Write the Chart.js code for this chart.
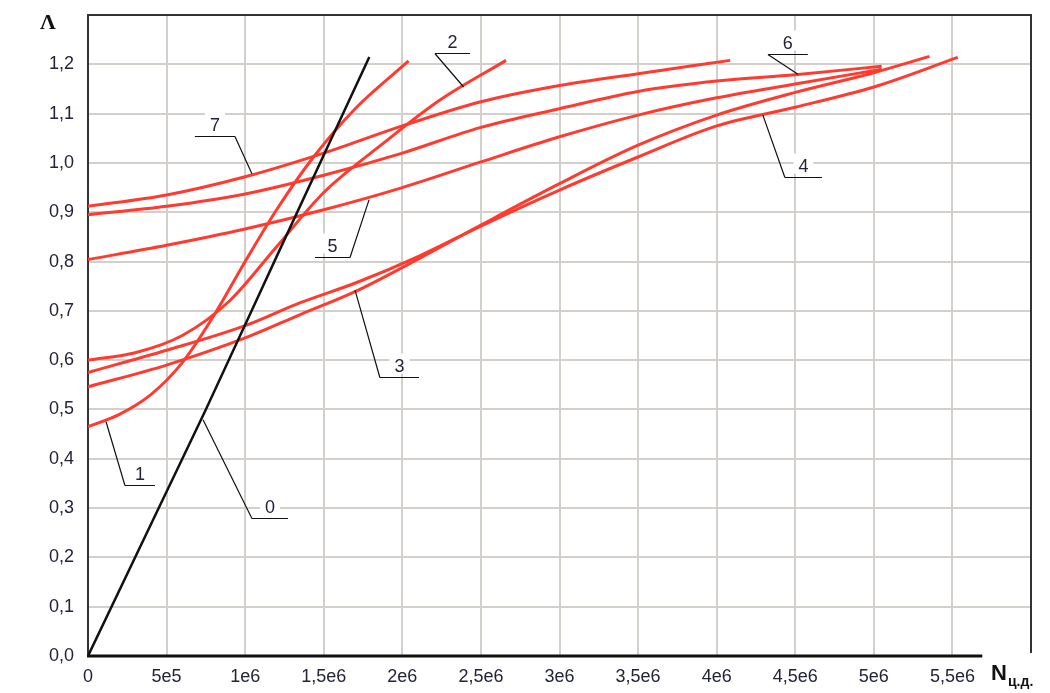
<!DOCTYPE html>
<html>
<head>
<meta charset="utf-8">
<script src="https://cdn.jsdelivr.net/npm/chart.js@4/dist/chart.umd.min.js"></script>
<style>
  html, body { margin: 0; padding: 0; background: #fff; }
</style>
</head>
<body>
<canvas id="chart" width="1050" height="693"></canvas>
<script>
// curve 0 (black) and curves 1..7 (red): N on x, Lambda on y
const x0 = [0, 0.45e6, 0.75e6, 1.2e6, 1.79e6];
const y0 = [0, 0.30, 0.50, 0.81, 1.215];

const x1 = [0, 0.2e6, 0.4e6, 0.6e6, 0.8e6, 1.0e6, 1.2e6, 1.43e6, 1.7e6, 2.04e6];
const y1 = [0.465, 0.49, 0.53, 0.595, 0.69, 0.80, 0.905, 1.01, 1.11, 1.207];

const x2 = [0, 0.3e6, 0.6e6, 0.9e6, 1.2e6, 1.5e6, 1.88e6, 2.237e6, 2.66e6];
const y2 = [0.60, 0.615, 0.65, 0.72, 0.83, 0.94, 1.04, 1.127, 1.208];

const x3 = [0, 0.5e6, 1.0e6, 1.355e6, 1.706e6, 2.1e6, 2.5e6, 3.0e6, 3.5e6, 4.0e6, 4.5e6, 5.0e6, 5.354e6];
const y3 = [0.546, 0.59, 0.645, 0.693, 0.74, 0.805, 0.874, 0.958, 1.036, 1.097, 1.143, 1.183, 1.216];

const x4 = [0, 0.5e6, 1.0e6, 1.355e6, 1.706e6, 2.1e6, 2.5e6, 3.0e6, 3.5e6, 4.0e6, 4.5e6, 5.0e6, 5.534e6];
const y4 = [0.575, 0.62, 0.67, 0.717, 0.757, 0.81, 0.872, 0.945, 1.012, 1.075, 1.113, 1.154, 1.214];

const x5 = [0, 0.5e6, 1.0e6, 1.5e6, 2.0e6, 2.5e6, 3.0e6, 3.5e6, 4.0e6, 4.5e6, 5.05e6];
const y5 = [0.804, 0.833, 0.866, 0.905, 0.95, 1.002, 1.053, 1.097, 1.132, 1.16, 1.19];

const x6 = [0, 0.5e6, 1.0e6, 1.5e6, 2.0e6, 2.5e6, 3.0e6, 3.5e6, 4.0e6, 4.5e6, 5.05e6];
const y6 = [0.895, 0.912, 0.937, 0.975, 1.02, 1.072, 1.110, 1.145, 1.166, 1.179, 1.196];

const x7 = [0, 0.5e6, 1.0e6, 1.5e6, 2.0e6, 2.5e6, 3.0e6, 3.5e6, 4.086e6];
const y7 = [0.912, 0.935, 0.972, 1.02, 1.075, 1.124, 1.157, 1.181, 1.208];

// curve number labels with leader lines (data units)
const tagText  = ['0', '1', '2', '3', '4', '5', '6', '7'];
const tagLineY = [0.28, 0.347, 1.223, 0.566, 0.972, 0.809, 1.221, 1.055];
const tagLineA = [1.043e6, 0.235e6, 2.207e6, 1.857e6, 4.434e6, 1.444e6, 4.326e6, 0.68e6];
const tagLineB = [1.272e6, 0.426e6, 2.43e6, 2.106e6, 4.67e6, 1.667e6, 4.58e6, 0.935e6];
const tagCorner = [1.043e6, 0.235e6, 2.207e6, 1.857e6, 4.434e6, 1.667e6, 4.326e6, 0.935e6];
const tagTipX  = [0.732e6, 0.115e6, 2.39e6, 1.699e6, 4.294e6, 1.788e6, 4.517e6, 1.043e6];
const tagTipY  = [0.479, 0.475, 1.154, 0.742, 1.097, 0.925, 1.18, 0.978];

const xs = [x0, x1, x2, x3, x4, x5, x6, x7];
const ys = [y0, y1, y2, y3, y4, y5, y6, y7];

const RED = '#ff3b2f';
const FONT = "'Liberation Sans', Arial, sans-serif";
const TXT = '#23233a';

const datasets = xs.map((xx, i) => ({
  label: String(i),
  data: xx.map((v, k) => ({ x: v, y: ys[i][k] })),
  borderColor: i === 0 ? '#111' : RED,
  borderWidth: i === 0 ? 2.5 : 3,
  pointRadius: 0,
  fill: false,
  cubicInterpolationMode: 'monotone'
}));

function fmtX(v) {
  if (v === 0) return '0';
  if (v > 5.9e6) return '';
  if (v < 1e6) return '5e5';
  return String(v / 1e6).replace('.', ',') + 'e6';
}

const decor = {
  id: 'decor',
  beforeDatasetsDraw(chart) {
    const { ctx, chartArea: a, scales } = chart;
    const xr = scales.x.getPixelForValue(5.69e6);
    ctx.save();
    ctx.strokeStyle = '#333';
    ctx.lineWidth = 2;
    ctx.beginPath();
    ctx.moveTo(a.left, a.bottom);
    ctx.lineTo(a.left, a.top);
    ctx.lineTo(a.right, a.top);
    ctx.lineTo(a.right, a.bottom - 3);
    ctx.stroke();
    ctx.strokeStyle = '#111';
    ctx.lineWidth = 3;
    ctx.beginPath();
    ctx.moveTo(a.left - 1, a.bottom);
    ctx.lineTo(xr, a.bottom);
    ctx.stroke();
    ctx.restore();
  },
  afterDatasetsDraw(chart) {
    const { ctx, scales } = chart;
    const X = v => scales.x.getPixelForValue(v);
    const Y = v => scales.y.getPixelForValue(v);
    ctx.save();
    ctx.font = '18px ' + FONT;
    ctx.textAlign = 'center';
    ctx.textBaseline = 'alphabetic';
    tagText.forEach((t, i) => {
      const ly = Math.round(Y(tagLineY[i])) + 0.5;
      const a = X(tagLineA[i]), b = X(tagLineB[i]);
      const cx = (a + b) / 2;
      ctx.fillStyle = '#fff';
      ctx.fillRect(cx - 10, ly - 24, 20, 20);
      ctx.fillStyle = TXT;
      ctx.fillText(t, cx, ly - 6);
      ctx.strokeStyle = '#111';
      ctx.lineWidth = 1.2;
      ctx.beginPath();
      ctx.moveTo(a, ly);
      ctx.lineTo(b, ly);
      ctx.moveTo(X(tagCorner[i]), ly);
      ctx.lineTo(X(tagTipX[i]), Y(tagTipY[i]));
      ctx.stroke();
    });
    ctx.restore();
  },
  afterDraw(chart) {
    const { ctx, chartArea: a } = chart;
    ctx.save();
    ctx.fillStyle = '#111';
    ctx.textAlign = 'left';
    ctx.textBaseline = 'alphabetic';
    ctx.font = 'bold 22px "Liberation Serif", "Times New Roman", serif';
    ctx.fillText('\u039B', 40, 29);
    ctx.font = 'bold 22px ' + FONT;
    ctx.fillText('N', 991, a.bottom + 24);
    ctx.font = 'bold 14px ' + FONT;
    ctx.fillText('\u0446.\u0434.', 1008, a.bottom + 30);
    ctx.restore();
  }
};

new Chart(document.getElementById('chart').getContext('2d'), {
  type: 'line',
  data: { datasets },
  options: {
    responsive: false,
    animation: false,
    devicePixelRatio: 1,
    layout: { padding: { left: 0, right: 19, top: 15, bottom: 0 } },
    plugins: { legend: { display: false }, tooltip: { enabled: false } },
    scales: {
      x: {
        type: 'linear',
        min: 0,
        max: 6e6,
        afterFit: s => { s.height = 37; s.paddingLeft = 0; s.paddingRight = 0; },
        afterBuildTicks: s => {
          s.ticks = [];
          for (let k = 0; k <= 12; k++) s.ticks.push({ value: k * 5e5 });
        },
        ticks: {
          padding: 10,
          maxRotation: 0,
          autoSkip: false,
          color: TXT,
          font: { family: FONT, size: 18 },
          callback: v => fmtX(v)
        },
        grid: {
          drawTicks: false,
          lineWidth: 2,
          color: c => (c.tick && (c.tick.value === 0 || c.tick.value >= 6e6)) ? 'rgba(0,0,0,0)' : '#d3cfcb'
        },
        border: { display: false }
      },
      y: {
        type: 'linear',
        min: 0,
        max: 1.3,
        afterFit: s => { s.width = 88; s.paddingTop = 0; s.paddingBottom = 0; },
        afterBuildTicks: s => {
          s.ticks = [];
          for (let k = 0; k <= 13; k++) s.ticks.push({ value: k / 10 });
        },
        ticks: {
          padding: 14,
          color: TXT,
          font: { family: FONT, size: 18 },
          callback: v => v > 1.25 ? '' : v.toFixed(1).replace('.', ',')
        },
        grid: {
          drawTicks: false,
          lineWidth: 2,
          color: c => (c.tick && (c.tick.value === 0 || c.tick.value > 1.25)) ? 'rgba(0,0,0,0)' : '#d3cfcb'
        },
        border: { display: false }
      }
    }
  },
  plugins: [decor]
});
</script>
</body>
</html>
